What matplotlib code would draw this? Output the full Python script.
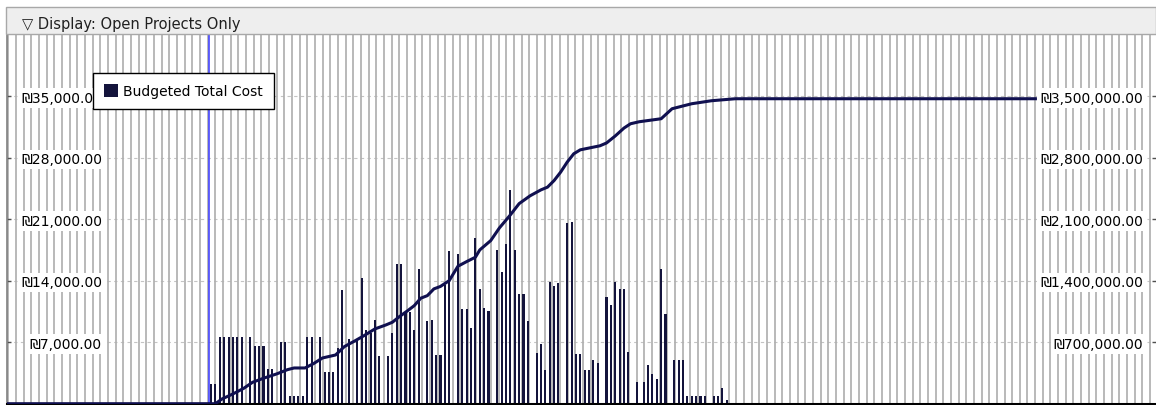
import matplotlib
matplotlib.use("Agg")
import matplotlib.pyplot as plt
from matplotlib.patches import Rectangle
from matplotlib.ticker import MultipleLocator, NullLocator, FuncFormatter

plt.rcParams["font.family"] = ["DejaVu Sans", "Noto Sans"]

# bar position (days from first bar) and budgeted cost of each bar, left axis
bar_day = [0, 2, 4, 6, 8, 10, 12, 14, 18, 20, 22, 24, 26, 28, 32, 34, 36, 38, 40, 42,
           44, 46, 50, 52, 54, 56, 58, 60, 63, 67, 69, 71, 73, 75, 77, 81, 83, 85, 87, 89,
           91, 93, 95, 99, 101, 103, 105, 107, 109, 113, 115, 117, 119, 121, 123, 125, 127,
           131, 133, 135, 137, 139, 141, 143, 145, 149, 151, 153, 155, 157, 159, 163, 165,
           167, 169, 171, 173, 175, 177, 181, 183, 185, 187, 189, 191, 195, 198, 200, 202,
           204, 206, 208, 212, 214, 216, 218, 220, 222, 224, 226, 230, 232, 234, 236]
bar_cost = [2300, 2300, 7650, 7650, 7650, 7650, 7650, 7650, 7650, 6520, 6520, 6520, 3980, 3980,
            7000, 7000, 850, 850, 850, 850, 7650, 7650, 7650, 3650, 3650, 3650, 6400, 13000,
            7400, 7200, 14350, 8400, 8100, 9560, 5400, 5400, 8000, 15900, 15900, 10400,
            10400, 8340, 15330, 9450, 9560, 5500, 5500, 13500, 17400, 17000, 10750, 10750,
            8570, 18900, 13100, 10950, 10550, 17500, 15000, 18200, 24300, 17500, 12450, 12450,
            9400, 5730, 6830, 3790, 13920, 13430, 13730, 20560, 20750, 5650, 5650, 3790, 3790,
            4930, 4630, 12100, 11270, 13920, 13050, 13050, 5840, 2430, 2430, 4440, 3410, 2810,
            15330, 10240, 4930, 4930, 4930, 910, 910, 910, 910, 910, 910, 910, 1740, 455]

# cumulative budgeted cost, right axis
cum_day = [-94, 2, 5, 10, 15, 19, 24, 30, 35, 38, 43, 47, 51, 57, 61, 66, 70, 75, 80, 83,
           86, 90, 93, 96, 99, 102, 105, 109, 113, 117, 121, 123, 128, 132, 137, 141, 146,
           151, 154, 157, 160, 163, 166, 169, 178, 181, 185, 189, 192, 196, 206, 211, 220,
           229, 240, 378]
cum_cost = [0, 0, 54000, 111000, 176000, 244000, 290000, 339000, 388000, 407000, 407000,
            458000, 521000, 555000, 650000, 718000, 775000, 852000, 897000, 928000, 988000,
            1060000, 1117000, 1202000, 1231000, 1308000, 1336000, 1402000, 1566000, 1619000,
            1669000, 1752000, 1858000, 2003000, 2151000, 2279000, 2368000, 2436000, 2467000,
            2542000, 2638000, 2752000, 2847000, 2892000, 2938000, 2970000, 3050000, 3140000,
            3189000, 3212000, 3246000, 3360000, 3417000, 3451000, 3474000, 3474000]

left_ticks = [7000, 14000, 21000, 28000, 35000]
right_ticks = [700000, 1400000, 2100000, 2800000, 3500000]
marker_day = -0.8

NAVY = "#14143c"
W, H = 1156, 406

fig = plt.figure(figsize=(W / 100, H / 100), dpi=100)
fig.patch.set_facecolor("white")

# header strip
fig.add_artist(Rectangle((6 / W, 1 - 35 / H), (W - 6) / W, 27 / H, transform=fig.transFigure,
                         facecolor="#eeeeee", edgecolor="#a8a8a8", lw=1))
fig.text(22 / W, 1 - 29 / H, "▽ Display: Open Projects Only", fontsize=10.5,
         ha="left", va="baseline", color="#202020")

ax = fig.add_axes([7 / W, 1.3 / H, (W - 7) / W, (404.7 - 36) / H])
ax.set_xlim(-93.4, 432.5)
ax.set_ylim(0, 42000)
ax.set_axisbelow(True)

for v in left_ticks:
    ax.axhline(v, color="#c4c4c4", lw=0.8, ls=(0, (3, 3)), zorder=0.3)

ax.xaxis.set_major_locator(NullLocator())
ax.xaxis.set_minor_locator(MultipleLocator(3.507, offset=1.94))
ax.grid(which="minor", axis="x", color="#b0b0b0", lw=1.25)
ax.tick_params(axis="x", which="both", length=0, labelbottom=False)

ax.axvline(marker_day, color="#4646ff", lw=1.2, zorder=1.5)
ax.bar(bar_day, bar_cost, width=0.95, color=NAVY, label="Budgeted Total Cost", zorder=2)

ax.set_yticks(left_ticks)
ax.yaxis.set_major_formatter(FuncFormatter(lambda v, p: f"₪{v:,.2f}"))
ax.tick_params(axis="y", direction="in", length=3, width=1, color="#505050",
               pad=-68.4, labelsize=10)
for lbl in ax.get_yticklabels():
    lbl.set_bbox(dict(facecolor="white", edgecolor="none", boxstyle="square,pad=0.2"))

for side in ("top", "right"):
    ax.spines[side].set_visible(False)
ax.spines["left"].set_color("#808080")
ax.spines["left"].set_linewidth(1.2)
ax.spines["bottom"].set_color("black")
ax.spines["bottom"].set_linewidth(2.2)

ax2 = ax.twinx()
ax2.set_ylim(0, 4200000)
ax2.plot(cum_day, cum_cost, color="#101050", lw=2.2, solid_capstyle="butt", zorder=2)
ax2.set_yticks(right_ticks)
ax2.yaxis.set_major_formatter(FuncFormatter(lambda v, p: f"₪{v:,.2f}"))
ax2.tick_params(axis="y", direction="in", length=3, width=1, color="#505050",
                pad=-9.4, labelsize=10)
for lbl in ax2.get_yticklabels():
    lbl.set_horizontalalignment("right")
    lbl.set_bbox(dict(facecolor="white", edgecolor="none", boxstyle="square,pad=0.2"))
for s in ax2.spines.values():
    s.set_visible(False)

leg = ax.legend(loc="upper left", bbox_to_anchor=(92.7 / W, 1 - 74 / H),
                bbox_transform=fig.transFigure, fancybox=False, framealpha=1,
                edgecolor="black", fontsize=10, handlelength=1.0, handleheight=1.0,
                handletextpad=0.4, borderpad=0.8, borderaxespad=0)
leg.get_frame().set_linewidth(1.0)
leg.set_zorder(10)

fig.savefig("out.png", dpi=100)
